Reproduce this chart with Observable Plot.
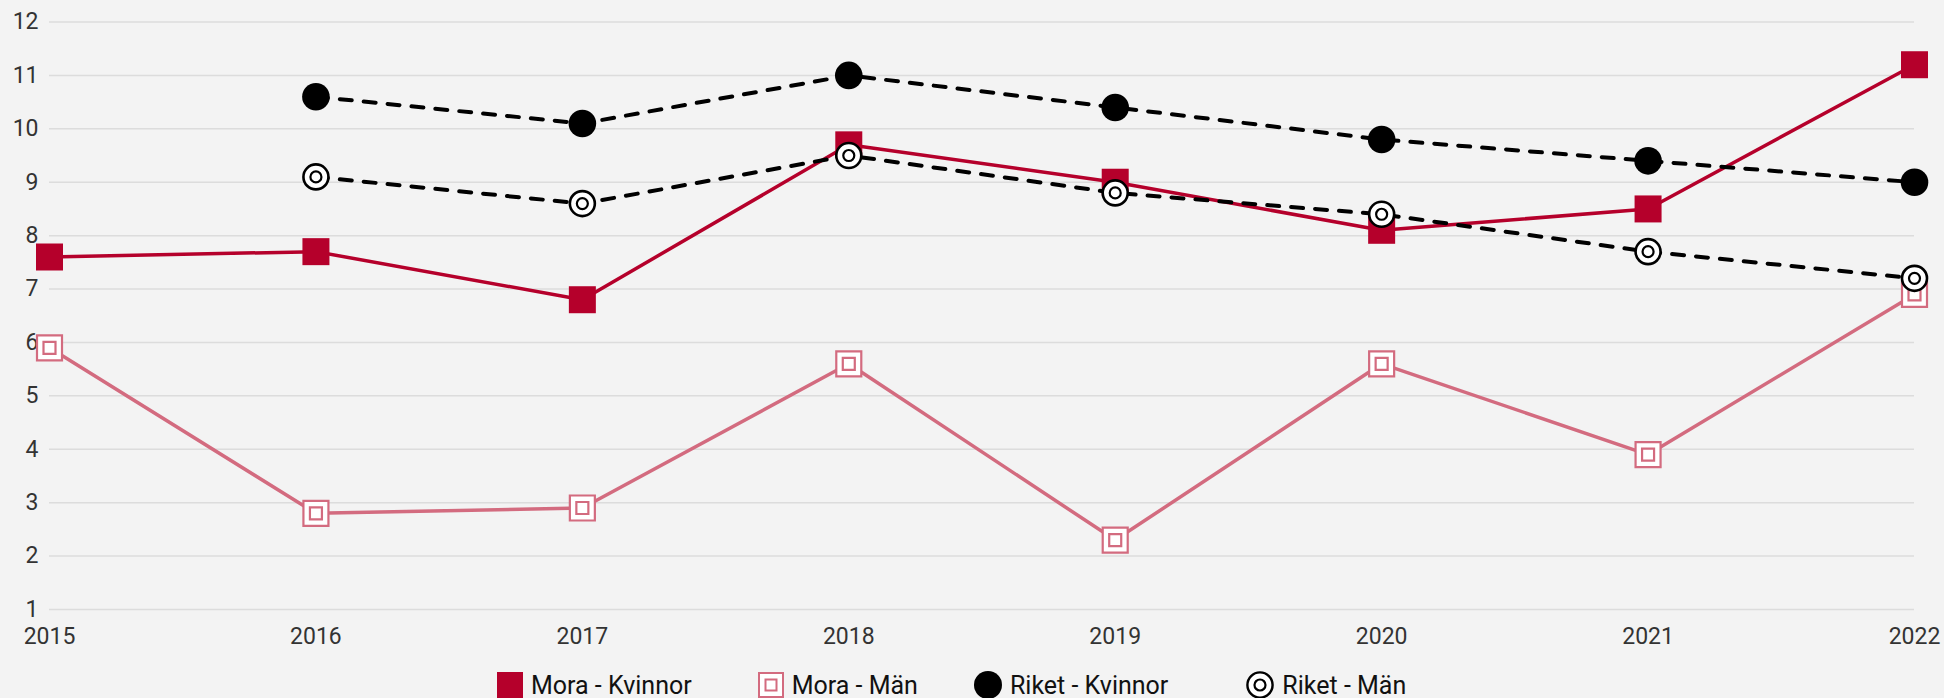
<!DOCTYPE html>
<html>
<head>
<meta charset="utf-8">
<script src="https://cdn.jsdelivr.net/npm/d3@7"></script>
<script src="https://cdn.jsdelivr.net/npm/@observablehq/plot@0.6"></script>
<style>
  html, body { margin: 0; padding: 0; background: #f3f3f3; overflow: hidden; }
  #wrap { position: relative; width: 1944px; height: 698px; background: #f3f3f3; font-family: Roboto, sans-serif; }
  #legend { position: absolute; left: 497px; top: 666px; height: 38px; display: flex; align-items: center; font-size: 25px; color: #111; }
  .item { display: flex; align-items: center; white-space: nowrap; }
  .item svg { margin-right: 8px; display: block; }
</style>
</head>
<body>
<div id="wrap">
  <div id="chart"></div>
  <div id="legend"></div>
</div>
<script>
const years = [2015, 2016, 2017, 2018, 2019, 2020, 2021, 2022];
const moraKvinnor = [7.6, 7.7, 6.8, 9.7, 9.0, 8.1, 8.5, 11.2];
const moraMan = [5.9, 2.8, 2.9, 5.6, 2.3, 5.6, 3.9, 6.9];
const riketKvinnor = [null, 10.6, 10.1, 11.0, 10.4, 9.8, 9.4, 9.0];
const riketMan = [null, 9.1, 8.6, 9.5, 8.8, 8.4, 7.7, 7.2];
const yTicks = [1, 2, 3, 4, 5, 6, 7, 8, 9, 10, 11, 12];
const seriesNames = ["Mora - Kvinnor", "Mora - Män", "Riket - Kvinnor", "Riket - Män"];

const red = "#b5002b";
const pink = "#d36b7f";

function rows(values) {
  return years.map((year, i) => ({year, value: values[i]})).filter(d => d.value != null);
}
const dMK = rows(moraKvinnor);
const dMM = rows(moraMan);
const dRK = rows(riketKvinnor);
const dRM = rows(riketMan);

const sq = side => side / Math.sqrt(Math.PI);

const chart = Plot.plot({
  width: 1944,
  height: 660,
  marginTop: 21.5,
  marginBottom: 51,
  marginLeft: 49,
  marginRight: 30,
  style: {background: "#f3f3f3", fontFamily: "Roboto, sans-serif", fontSize: "23px", color: "#333", overflow: "visible"},
  x: {domain: [2015, 2022], label: null},
  y: {domain: [1, 12], label: null},
  marks: [
    Plot.gridY(yTicks, {stroke: "#dcdcdc", strokeOpacity: 1, strokeWidth: 1.5}),
    Plot.axisX(years, {tickFormat: d => String(d), tickSize: 0, tickPadding: 18, fill: "#333", label: null}),
    Plot.axisY(yTicks, {tickFormat: d => String(d), tickSize: 0, tickPadding: 11, fill: "#333", label: null}),
    Plot.line(dMK, {x: "year", y: "value", stroke: red, strokeWidth: 3.5}),
    Plot.dot(dMK, {x: "year", y: "value", symbol: "square", r: sq(27), fill: red}),
    Plot.line(dMM, {x: "year", y: "value", stroke: pink, strokeWidth: 3.5}),
    Plot.dot(dMM, {x: "year", y: "value", symbol: "square", r: sq(25), fill: "white", stroke: pink, strokeWidth: 2.2}),
    Plot.dot(dMM, {x: "year", y: "value", symbol: "square", r: sq(12), fill: "white", stroke: pink, strokeWidth: 2.2}),
    Plot.line(dRK, {x: "year", y: "value", stroke: "black", strokeWidth: 4, strokeDasharray: "12,12"}),
    Plot.dot(dRK, {x: "year", y: "value", r: 13.8, fill: "black"}),
    Plot.line(dRM, {x: "year", y: "value", stroke: "black", strokeWidth: 4, strokeDasharray: "12,12"}),
    Plot.dot(dRM, {x: "year", y: "value", r: 12.5, fill: "white", stroke: "black", strokeWidth: 2.6}),
    Plot.dot(dRM, {x: "year", y: "value", r: 5.5, fill: "white", stroke: "black", strokeWidth: 2.2})
  ]
});
document.getElementById("chart").appendChild(chart);

const icons = [
  `<svg width="26" height="26"><rect x="0" y="0" width="26" height="26" fill="${red}"/></svg>`,
  `<svg width="26" height="26"><rect x="1" y="1" width="24" height="24" fill="white" stroke="${pink}" stroke-width="2"/><rect x="7.5" y="7.5" width="11" height="11" fill="white" stroke="${pink}" stroke-width="2"/></svg>`,
  `<svg width="28" height="28"><circle cx="14" cy="14" r="14" fill="black"/></svg>`,
  `<svg width="28" height="28"><circle cx="14" cy="14" r="12.6" fill="white" stroke="black" stroke-width="2.4"/><circle cx="14" cy="14" r="5.5" fill="white" stroke="black" stroke-width="2.2"/></svg>`
];
const gaps = [66, 56, 78, 0];
const legend = document.getElementById("legend");
seriesNames.forEach((name, i) => {
  const it = document.createElement("div");
  it.className = "item";
  it.style.marginRight = gaps[i] + "px";
  it.innerHTML = icons[i] + `<span>${name}</span>`;
  legend.appendChild(it);
});
</script>
</body>
</html>
